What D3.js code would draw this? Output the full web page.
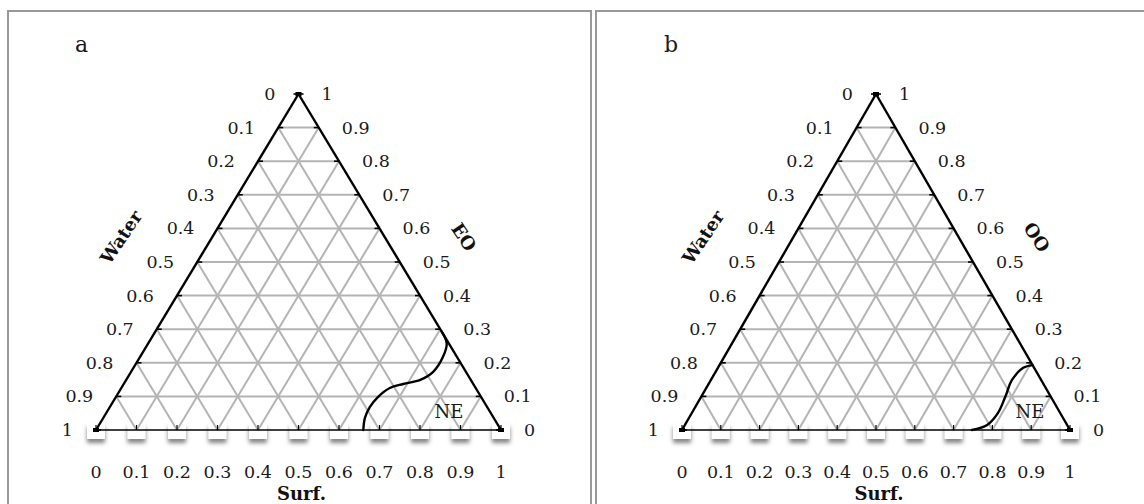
<!DOCTYPE html>
<html><head><meta charset="utf-8">
<script src="https://cdn.jsdelivr.net/npm/d3@7"></script>
<style>body{margin:0;background:#fff}svg{display:block}</style>
</head><body>
<svg id="chart" width="1144" height="504"></svg>
<script>
// ---- data ----
const tickValues = [0, 0.1, 0.2, 0.3, 0.4, 0.5, 0.6, 0.7, 0.8, 0.9, 1];
const tickLabels = ["0", "0.1", "0.2", "0.3", "0.4", "0.5", "0.6", "0.7", "0.8", "0.9", "1"];
const panelLetters = ["a", "b"];
const leftAxisName = "Water";
const bottomAxisName = "Surf.";
const rightAxisNames = ["EO", "OO"];
const regionLabel = "NE";
// boundary curves: surfactant fraction and oil fraction along the curve
const curveA_surf = [0.707, 0.737, 0.748, 0.746, 0.726, 0.690, 0.663, 0.647, 0.642, 0.646, 0.660];
const curveA_oil  = [0.293, 0.258, 0.217, 0.173, 0.149, 0.137, 0.125, 0.098, 0.068, 0.036, 0.000];
const curveB_surf = [0.807, 0.787, 0.776, 0.784, 0.789, 0.779, 0.747];
const curveB_oil  = [0.193, 0.185, 0.149, 0.098, 0.051, 0.015, 0.000];

// ---- layout ----
const layouts = [
  {frameX: 8, frameW: 583, xL: 96, xR: 501, apexY: 94, baseY: 430, letterX: 75,
   waterX: 121, rightNameX: 464, neX: 449},
  {frameX: 596, frameW: 560, xL: 682, xR: 1070, apexY: 94, baseY: 430, letterX: 664,
   waterX: 703, rightNameX: 1037, neX: 1030}
];
const curves = [
  d3.zip(curveA_surf, curveA_oil),
  d3.zip(curveB_surf, curveB_oil)
];

const svg = d3.select("#chart");
const defs = svg.append("defs");
const f = defs.append("filter").attr("id", "shadow")
  .attr("x", "-50%").attr("y", "-50%").attr("width", "200%").attr("height", "220%");
f.append("feDropShadow").attr("dx", 0).attr("dy", 4).attr("stdDeviation", 2)
  .attr("flood-color", "#666").attr("flood-opacity", 0.8);

const serif = "'DejaVu Serif', serif";

layouts.forEach((L, i) => {
  const g = svg.append("g");
  // frame
  g.append("rect").attr("x", L.frameX).attr("y", 11).attr("width", L.frameW).attr("height", 520)
    .attr("fill", "none").attr("stroke", "#999").attr("stroke-width", 2);

  const xs = d3.scaleLinear().domain([0, 1]).range([L.xL, L.xR]);
  const ys = d3.scaleLinear().domain([0, 1]).range([L.baseY, L.apexY]);
  const px = (s, e) => xs(s + e / 2);
  const py = (s, e) => ys(e);

  // white boxes with shadow under base ticks
  g.selectAll(".box").data(tickValues).enter().append("rect")
    .attr("x", d => xs(d) - 9).attr("y", L.baseY - 7).attr("width", 18).attr("height", 16)
    .attr("fill", "#fff").attr("filter", "url(#shadow)");

  // grid
  const grid = [];
  tickValues.slice(1, -1).forEach(k => {
    grid.push([[0, k], [1 - k, k]]);         // constant oil (horizontal)
    grid.push([[k, 0], [k, 1 - k]]);         // constant surf
    grid.push([[1 - k, 0], [0, 1 - k]]);     // constant water
  });
  g.selectAll(".grid").data(grid).enter().append("line")
    .attr("x1", d => px(...d[0])).attr("y1", d => py(...d[0]))
    .attr("x2", d => px(...d[1])).attr("y2", d => py(...d[1]))
    .attr("stroke", "#b4b4b4").attr("stroke-width", 2);

  // edges
  g.append("line").attr("x1", px(0, 0)).attr("y1", py(0, 0)).attr("x2", px(1, 0)).attr("y2", py(1, 0))
    .attr("stroke", "#000").attr("stroke-width", 1.6);
  g.append("line").attr("x1", px(0, 0)).attr("y1", py(0, 0)).attr("x2", px(0, 1)).attr("y2", py(0, 1))
    .attr("stroke", "#000").attr("stroke-width", 2.4);
  g.append("line").attr("x1", px(1, 0)).attr("y1", py(1, 0)).attr("x2", px(0, 1)).attr("y2", py(0, 1))
    .attr("stroke", "#000").attr("stroke-width", 2.4);

  // ticks
  tickValues.forEach(k => {
    g.append("line").attr("x1", xs(k)).attr("x2", xs(k)).attr("y1", L.baseY).attr("y2", L.baseY - 5)
      .attr("stroke", "#000").attr("stroke-width", 1.2);
    g.append("line").attr("x1", px(0, k)).attr("x2", px(0, k) + 5).attr("y1", py(0, k)).attr("y2", py(0, k))
      .attr("stroke", "#000").attr("stroke-width", 1.6);
    g.append("line").attr("x1", px(1 - k, k)).attr("x2", px(1 - k, k) - 5).attr("y1", py(0, k)).attr("y2", py(0, k))
      .attr("stroke", "#000").attr("stroke-width", 1.6);
  });
  [[0, 0], [1, 0], [0, 1]].forEach(v => {
    g.append("rect").attr("x", px(...v) - 3).attr("y", py(...v) - 2).attr("width", 6).attr("height", 4).attr("fill", "#000");
  });

  // curve
  const line = d3.line().x(d => px(d[0], d[1])).y(d => py(d[0], d[1])).curve(d3.curveCatmullRom.alpha(0.5));
  g.append("path").attr("d", line(curves[i])).attr("fill", "none")
    .attr("stroke", "#000").attr("stroke-width", 2.4).attr("stroke-linecap", "round");

  // tick labels
  const fs = "17.5px", col = "#1a1a1a";
  tickValues.forEach((k, j) => {
    g.append("text").attr("x", px(0, k) - 23).attr("y", py(0, k)).attr("text-anchor", "end")
      .attr("dominant-baseline", "central").attr("font-family", serif).attr("font-size", fs).attr("fill", col)
      .text(tickLabels[10 - j]);
    g.append("text").attr("x", px(1 - k, k) + 23).attr("y", py(0, k)).attr("text-anchor", "start")
      .attr("dominant-baseline", "central").attr("font-family", serif).attr("font-size", fs).attr("fill", col)
      .text(tickLabels[j]);
    g.append("text").attr("x", xs(k)).attr("y", L.baseY + 42).attr("text-anchor", "middle")
      .attr("dominant-baseline", "central").attr("font-family", serif).attr("font-size", fs).attr("fill", col)
      .text(tickLabels[j]);
  });

  // axis names
  g.append("text").attr("x", xs(0.5) + 3).attr("y", L.baseY + 63).attr("text-anchor", "middle")
    .attr("dominant-baseline", "central").attr("font-family", serif).attr("font-weight", "bold")
    .attr("font-size", "18px").attr("fill", "#111").text(bottomAxisName);
  g.append("text").attr("transform", `translate(${L.waterX},237) rotate(-56)`).attr("text-anchor", "middle")
    .attr("dominant-baseline", "central").attr("font-family", serif).attr("font-weight", "bold")
    .attr("font-size", "18px").attr("fill", "#111").text(leftAxisName);
  g.append("text").attr("transform", `translate(${L.rightNameX},237) rotate(56)`).attr("text-anchor", "middle")
    .attr("dominant-baseline", "central").attr("font-family", serif).attr("font-weight", "bold")
    .attr("font-size", "18px").attr("fill", "#111").text(rightAxisNames[i]);

  // region label & panel letter
  g.append("text").attr("x", L.neX).attr("y", 411).attr("text-anchor", "middle")
    .attr("dominant-baseline", "central").attr("font-family", serif).attr("font-size", "18px").attr("fill", "#1a1a1a").text(regionLabel);
  g.append("text").attr("x", L.letterX).attr("y", 52).attr("text-anchor", "start")
    .attr("font-family", serif).attr("font-size", "22px").attr("fill", "#1a1a1a").text(panelLetters[i]);
});
</script>
</body></html>
